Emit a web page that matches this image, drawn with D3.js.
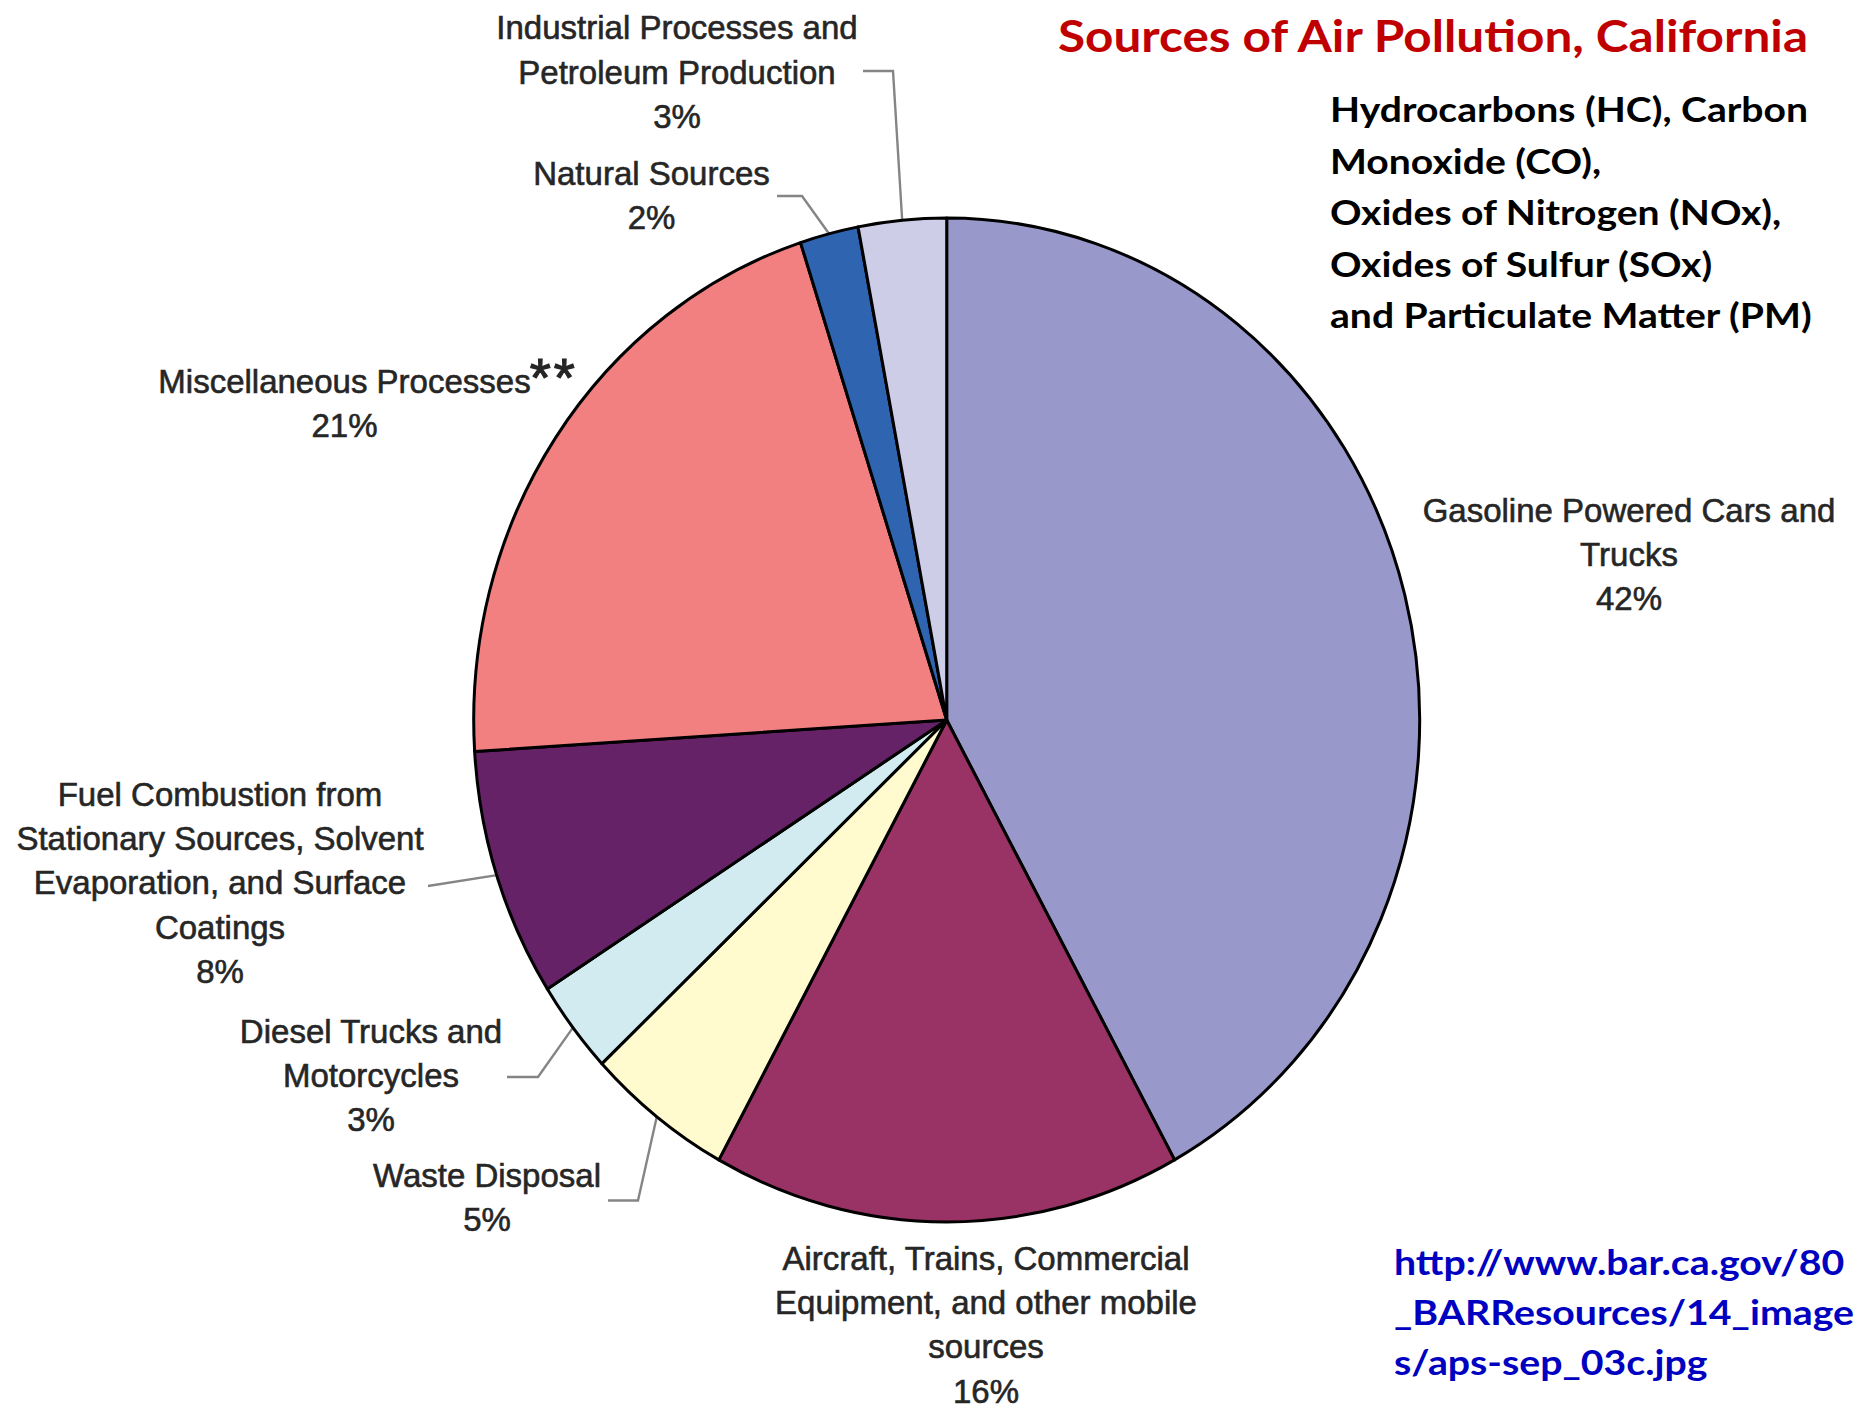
<!DOCTYPE html>
<html><head><meta charset="utf-8">
<script src="https://cdn.jsdelivr.net/npm/d3@7"></script>
<style>html,body{margin:0;padding:0;background:#fff;} svg{display:block;}</style>
</head><body>
<script>
// ---- data ----
const categories = [
  "Gasoline Powered Cars and Trucks",
  "Aircraft, Trains, Commercial Equipment, and other mobile sources",
  "Waste Disposal",
  "Diesel Trucks and Motorcycles",
  "Fuel Combustion from Stationary Sources, Solvent Evaporation, and Surface Coatings",
  "Miscellaneous Processes",
  "Natural Sources",
  "Industrial Processes and Petroleum Production"
];
const values = [42, 16, 5, 3, 8, 21, 2, 3];
const footnotes = ["", "", "", "", "", "**", "", ""];
const sliceColors = ["#9898CA", "#993366", "#FFFBCF", "#D2EBF0", "#662266", "#F28080", "#2E64B0", "#CDCDE7"];
const titleText = "Sources of Air Pollution, California";
const subtitleLines = [
  "Hydrocarbons (HC), Carbon",
  "Monoxide (CO),",
  "Oxides of Nitrogen (NOx),",
  "Oxides of Sulfur (SOx)",
  "and Particulate Matter (PM)"
];
const sourceLines = [
  "http://www.bar.ca.gov/80",
  "_BARResources/14_image",
  "s/aps-sep_03c.jpg"
];

// ---- layout ----
const W = 1862, H = 1409;
const cx = 946.7, cy = 720, rx = 473, ry = 502;
const labelLayout = [
  {wrap: [4, 1], x: 1629, y: 521.7},
  {wrap: [3, 4, 1], x: 986, y: 1270},
  {wrap: [2], x: 487, y: 1187, leader: [[608, 1200.5], [638, 1200.5]]},
  {wrap: [3, 1], x: 371, y: 1043, leader: [[507, 1077], [538, 1077]]},
  {wrap: [3, 3, 3, 1], x: 220, y: 806, leader: [[428, 886]]},
  {wrap: [2], x: 344.5, y: 393},
  {wrap: [2], x: 651.5, y: 185, leader: [[777, 196], [802, 196]]},
  {wrap: [3, 2], x: 677, y: 39.3, leader: [[863, 71], [893, 71]]}
];
const lineH = 44.2;

const svg = d3.select("body").append("svg").attr("width", W).attr("height", H);

const data = categories.map((c, i) => ({name: c, value: values[i], color: sliceColors[i], note: footnotes[i], layout: labelLayout[i]}));
const pie = d3.pie().sort(null).value(d => d.value);
const arcs = pie(data);
const arc = d3.arc().innerRadius(0).outerRadius(rx);

// leaders (under pie)
const leaderG = svg.append("g");
arcs.forEach(a => {
  const L = a.data.layout;
  if (!L.leader) return;
  const m = (a.startAngle + a.endAngle) / 2;
  const end = [cx + rx * Math.sin(m), cy - ry * Math.cos(m)];
  leaderG.append("path")
    .attr("d", d3.line()([...L.leader, end]))
    .attr("fill", "none").attr("stroke", "#858585").attr("stroke-width", 2.4);
});

const g = svg.append("g").attr("transform", `translate(${cx},${cy}) scale(1,${ry / rx})`);
g.selectAll("path").data(arcs).join("path")
  .attr("d", arc)
  .attr("fill", d => d.data.color)
  .attr("stroke", "#000")
  .attr("stroke-width", 3)
  .attr("stroke-linejoin", "round")
  .attr("vector-effect", "non-scaling-stroke");

// pie labels
const labG = svg.append("g")
  .attr("font-family", "'Liberation Sans', Arial, sans-serif")
  .attr("font-size", 33)
  .attr("fill", "#262626")
  .attr("stroke", "#262626").attr("stroke-width", 0.6)
  .attr("text-anchor", "middle");
arcs.forEach(a => {
  const L = a.data.layout;
  const words = a.data.name.split(" ");
  const lines = [];
  let k = 0;
  L.wrap.forEach(n => { lines.push(words.slice(k, k + n).join(" ")); k += n; });
  lines.push(a.data.value + "%");
  lines.forEach((t, i) => {
    const txt = labG.append("text").attr("x", L.x).attr("y", L.y + i * lineH).text(t);
    if (i === 0 && a.data.note) {
      const w = txt.node().getComputedTextLength();
      labG.append("text")
        .attr("x", L.x + w / 2 - 1).attr("y", L.y + 3)
        .attr("text-anchor", "start")
        .attr("font-size", 54)
        .attr("letter-spacing", 3)
        .attr("stroke-width", 1.2)
        .text(a.data.note);
    }
  });
});

// Calibri-like text blocks
function drawBlock(lines, x, y0, lh, size, color, refIdx, refWidth) {
  const gg = svg.append("g")
    .attr("font-family", "Lato, 'Open Sans', sans-serif")
    .attr("font-weight", 700)
    .attr("font-size", size)
    .attr("fill", color);
  const nodes = lines.map((t, i) => gg.append("text").attr("x", x).attr("y", y0 + i * lh).text(t));
  const nat = nodes.map(n => n.node().getComputedTextLength());
  const f = refWidth / nat[refIdx];
  nodes.forEach((n, i) => n.attr("textLength", nat[i] * f).attr("lengthAdjust", "spacingAndGlyphs"));
}
drawBlock([titleText], 1058, 52, 0, 44, "#C00000", 0, 750);
drawBlock(subtitleLines, 1330, 122, 51.5, 34, "#000000", 0, 478);
drawBlock(sourceLines, 1394, 1275, 50, 34, "#0000C0", 1, 460);
</script>
</body></html>
